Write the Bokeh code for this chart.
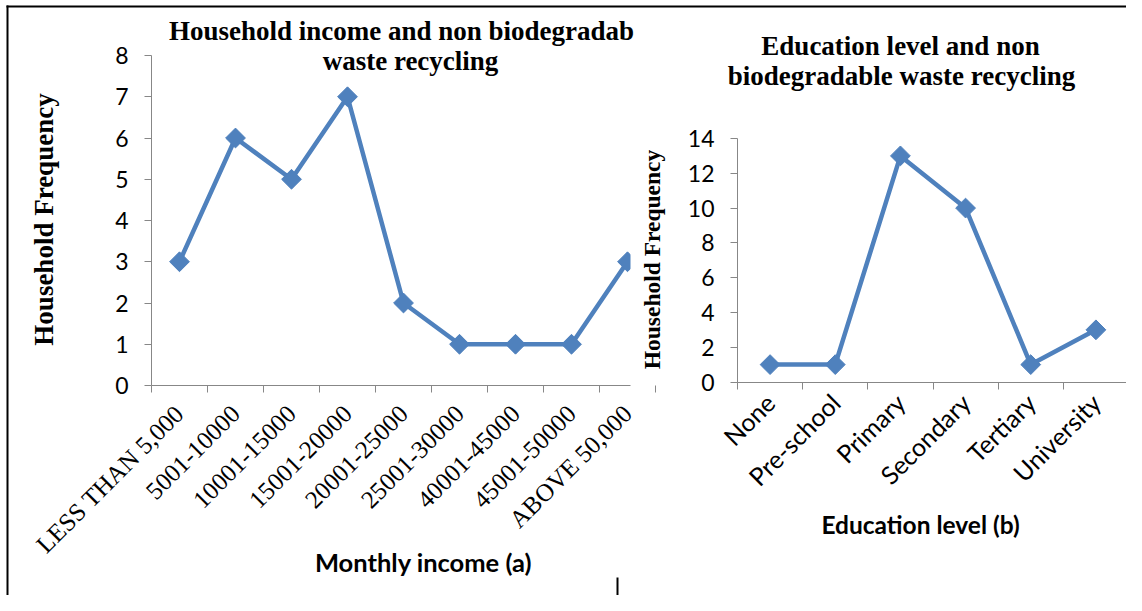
import math
from bokeh.plotting import figure
from bokeh.models import (FixedTicker, Label, Range1d, LinearAxis, BoxAnnotation)
from bokeh.embed import file_html
from bokeh.resources import INLINE

# ---------------- data ----------------
income_cats = ["LESS THAN 5,000", "5001-10000", "10001-15000", "15001-20000",
               "20001-25000", "25001-30000", "40001-45000", "45001-50000", "ABOVE 50,000"]
income_freq = [3, 6, 5, 7, 2, 1, 1, 1, 3]
income_yticks = [0, 1, 2, 3, 4, 5, 6, 7, 8]

edu_cats = ["None", "Pre-school", "Primary", "Secondary", "Tertiary", "University"]
edu_freq = [1, 1, 13, 10, 1, 3]
edu_yticks = [0, 2, 4, 6, 8, 10, 12, 14]

BLUE = "#4F81BD"
AXIS = "#878787"
SERIF = "Liberation Serif"
SANS = "Lato"

# canvas geometry in pixels
W, H = 1126, 595


def span_range(lo_px, hi_px, px_a, val_a, px_b, val_b):
    """Range whose ends land on lo_px/hi_px when val_a sits at px_a and val_b at px_b."""
    k = (val_b - val_a) / (px_b - px_a)
    return Range1d(start=val_a + (lo_px - px_a) * k, end=val_a + (hi_px - px_a) * k)


p = figure(width=W, height=H, output_backend="svg", toolbar_location=None,
           x_range=Range1d(0, W), y_range=Range1d(H, 0),
           x_axis_location=None, y_axis_location=None, title_location=None,
           min_border=0)
p.xgrid.visible = False
p.ygrid.visible = False
p.outline_line_color = None
p.background_fill_color = "white"
p.border_fill_color = "white"

# chart (a): category slot width 56 px from x=151, value 0 at y=385, 8 at y=55
p.extra_x_ranges["inc_x"] = span_range(0, W, 151, 0, 151 + 56 * len(income_cats), len(income_cats))
p.extra_y_ranges["inc_y"] = span_range(H, 0, 385, 0, 55, 8)
# chart (b): 6 slots from x=737 to 1128, value 0 at y=381.5, 14 at y=138
p.extra_x_ranges["edu_x"] = span_range(0, W, 737, 0, 1128, len(edu_cats))
p.extra_y_ranges["edu_y"] = span_range(H, 0, 381.5, 0, 138, 14)


def add_axes(rx, ry, cats, yticks, xbound, xfont, xsize, xstandoff):
    centers = [i + 0.5 for i in range(len(cats))]
    bounds = list(range(len(cats) + 1))
    xa = LinearAxis(x_range_name=rx, y_range_name=ry, fixed_location=0,
                    bounds=(0, xbound))
    xa.ticker = FixedTicker(ticks=centers, minor_ticks=bounds)
    xa.major_label_overrides = {c: lab for c, lab in zip(centers, cats)}
    xa.major_label_orientation = math.pi / 4
    xa.major_tick_line_color = None
    xa.minor_tick_line_color = AXIS
    xa.minor_tick_out = 7
    xa.minor_tick_in = 0
    xa.axis_line_color = AXIS
    xa.major_label_text_font = xfont
    xa.major_label_text_font_size = xsize
    xa.major_label_text_color = "#000000"
    xa.major_label_standoff = xstandoff
    p.add_layout(xa, "below")

    ya = LinearAxis(x_range_name=rx, y_range_name=ry, fixed_location=0,
                    bounds=(yticks[0], yticks[-1]))
    ya.ticker = FixedTicker(ticks=yticks)
    ya.minor_tick_line_color = None
    ya.major_tick_out = 7
    ya.major_tick_in = 0
    ya.major_tick_line_color = AXIS
    ya.axis_line_color = AXIS
    ya.major_label_text_font = SANS
    ya.major_label_text_font_size = "23px"
    ya.major_label_text_color = "#000000"
    ya.major_label_standoff = 16
    p.add_layout(ya, "left")
    return centers


# ---------------- chart (a) ----------------
x1 = add_axes("inc_x", "inc_y", income_cats, income_yticks, 8.55, SERIF, "25px", 17)
p.line(x1, income_freq, line_color=BLUE, line_width=4.5,
       x_range_name="inc_x", y_range_name="inc_y")
p.scatter(x1, income_freq, marker="square", angle=math.pi / 4, size=14,
          fill_color=BLUE, line_color=BLUE, x_range_name="inc_x", y_range_name="inc_y")

# ---------------- chart (b) ----------------
x2 = add_axes("edu_x", "edu_y", edu_cats, edu_yticks, len(edu_cats), SANS, "25px", 9)
p.line(x2, edu_freq, line_color=BLUE, line_width=4.5,
       x_range_name="edu_x", y_range_name="edu_y")
p.scatter(x2, edu_freq, marker="square", angle=math.pi / 4, size=14,
          fill_color=BLUE, line_color=BLUE, x_range_name="edu_x", y_range_name="edu_y")

# chart (b)'s area covers the right edge of chart (a)
p.add_layout(BoxAnnotation(left=630, right=639, top=240, bottom=290,
                           fill_color="white", fill_alpha=1.0, line_color=None))

# ---------------- texts (canvas pixel coordinates) ----------------
def label(txt, x, y, font, size, angle=0.0, baseline="alphabetic"):
    p.add_layout(Label(x=x, y=y, text=txt, angle=angle, text_align="center",
                       text_baseline=baseline, text_font=font,
                       text_font_style="bold", text_font_size=size,
                       text_color="#000000"))

label("Household income and non biodegradab", 401, 30, SERIF, "27px")
label("waste recycling", 410, 60, SERIF, "27px")
label("Household Frequency", 43, 219, SERIF, "27px", math.pi / 2, "middle")
label("Monthly income (a)", 423, 561, SANS, "25.5px")

label("Education level and non", 900, 45, SERIF, "27px")
label("biodegradable waste recycling", 901, 75, SERIF, "27px")
label("Household Frequency", 651, 259, SERIF, "23.5px", math.pi / 2, "middle")
label("Education level (b)", 920, 524, SANS, "24.5px")

# page frame lines (document table borders)
for l, r, t, b in [(6, W, 5, 7), (6, 8, 5, H), (616, 618, 577, H)]:
    p.add_layout(BoxAnnotation(left=l, right=r, top=t, bottom=b,
                               fill_color="#000000", fill_alpha=1.0, line_color=None))

open("out.html", "w").write(file_html(p, INLINE))
